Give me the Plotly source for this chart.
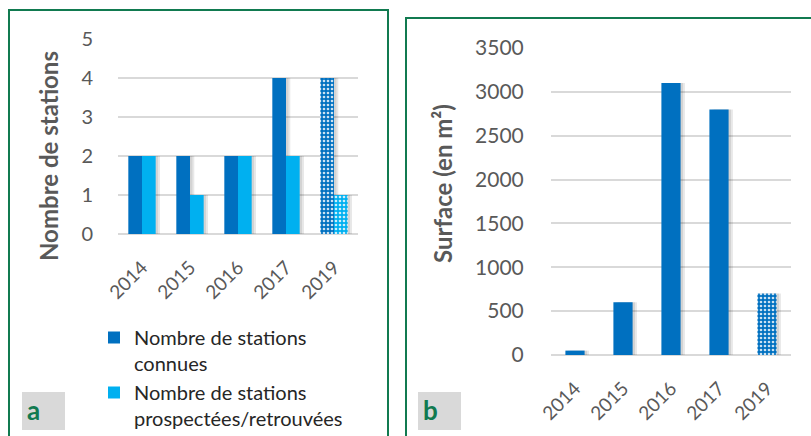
import plotly.graph_objects as go

years = ["2014", "2015", "2016", "2017", "2019"]
connues = [2, 2, 2, 4, 4]
prospectees = [2, 1, 2, 2, 1]
surface = [50, 600, 3100, 2800, 700]

name_connues = "Nombre de stations<br>connues"
name_prosp = "Nombre de stations<br>prospectées/retrouvées"

DARK = "#0070C0"
LIGHT = "#00B0F0"
GREEN = "#117A50"
GREY_TXT = "#595959"
GRID = "#D9D9D9"
FONT = "Lato"
W, H = 811, 436

pattern_shapes = ["", "", "", "", "."]
pat = dict(shape=pattern_shapes, fgcolor="white", fgopacity=0.8, size=4, solidity=0.35)

fig = go.Figure()

# panel a: shadows
bw_a = 0.285
for vals, off in ((connues, -bw_a), (prospectees, 0.0)):
    for sh in (0.09, 0.05):
        fig.add_trace(go.Bar(x=years, y=vals, xaxis="x", yaxis="y", width=bw_a, offset=off + sh,
                             marker=dict(color="rgba(0,0,0,0.09)", line_width=0),
                             showlegend=False, hoverinfo="skip"))

fig.add_trace(go.Bar(x=years, y=connues, name=name_connues, xaxis="x", yaxis="y",
                     width=bw_a, offset=-bw_a,
                     marker=dict(color=DARK, line_width=0, pattern=pat)))
fig.add_trace(go.Bar(x=years, y=prospectees, name=name_prosp, xaxis="x", yaxis="y",
                     width=bw_a, offset=0,
                     marker=dict(color=LIGHT, line_width=0, pattern=pat)))

# panel b
bw_b = 0.40
for sh in (0.09, 0.05):
    fig.add_trace(go.Bar(x=years, y=surface, xaxis="x2", yaxis="y2", width=bw_b, offset=-bw_b / 2 + sh,
                         marker=dict(color="rgba(0,0,0,0.09)", line_width=0),
                         showlegend=False, hoverinfo="skip"))
fig.add_trace(go.Bar(x=years, y=surface, xaxis="x2", yaxis="y2", width=bw_b, offset=-bw_b / 2,
                     marker=dict(color=DARK, line_width=0, pattern=pat), showlegend=False))


def px_x(p):
    return p / W


def px_y(p):
    return 1 - p / H


common_x = dict(type="category", showgrid=False, showline=False, zeroline=False, automargin=False,
                tickangle=-45, ticks="outside", ticklen=14, tickcolor="rgba(0,0,0,0)",
                tickfont=dict(family=FONT, size=19, color=GREY_TXT), fixedrange=True)


def border_path(x0, y_top, x1):
    return (f"M {px_x(x0)},0 L {px_x(x0)},{px_y(y_top)} L {px_x(x1)},{px_y(y_top)} L {px_x(x1)},0")


fig.update_layout(
    width=W, height=H, margin=dict(l=0, r=0, t=0, b=0, autoexpand=False),
    paper_bgcolor="white", plot_bgcolor="white",
    barmode="overlay",
    font=dict(family=FONT, color=GREY_TXT),
    xaxis=dict(domain=[px_x(118), px_x(358)], anchor="y", **common_x),
    yaxis=dict(domain=[px_y(234), px_y(39)], range=[0, 5], dtick=1, anchor="x", automargin=False,
               showgrid=True, gridcolor=GRID, gridwidth=2, zeroline=True, zerolinecolor=GRID,
               zerolinewidth=2, showline=False, fixedrange=True,
               ticks="outside", ticklen=20, tickcolor="rgba(0,0,0,0)",
               tickfont=dict(family=FONT, size=20, color=GREY_TXT)),
    xaxis2=dict(domain=[px_x(551), px_x(791)], anchor="y2", **common_x),
    yaxis2=dict(domain=[px_y(355), px_y(48)], range=[0, 3500], dtick=500, anchor="x2", automargin=False,
                showgrid=True, gridcolor=GRID, gridwidth=2, zeroline=True, zerolinecolor=GRID,
                zerolinewidth=2, showline=False, fixedrange=True,
                ticks="outside", ticklen=22, tickcolor="rgba(0,0,0,0)",
                tickfont=dict(family=FONT, size=21, color=GREY_TXT)),
    legend=dict(x=px_x(94), y=px_y(318), xanchor="left", yanchor="top",
                font=dict(family=FONT, size=20, color="#262626"),
                bgcolor="rgba(0,0,0,0)", valign="top", tracegroupgap=0),
    shapes=[
        dict(type="path", xref="paper", yref="paper", path=border_path(9, 10, 388),
             line=dict(color=GREEN, width=2), layer="below"),
        dict(type="path", xref="paper", yref="paper", path=border_path(406, 18, 815),
             line=dict(color=GREEN, width=2), layer="below"),
        dict(type="rect", xref="paper", yref="paper", x0=px_x(22), x1=px_x(65), y0=px_y(430), y1=px_y(392),
             line=dict(width=0), fillcolor="#D9D9D9", layer="below"),
        dict(type="rect", xref="paper", yref="paper", x0=px_x(418), x1=px_x(461), y0=px_y(430), y1=px_y(392),
             line=dict(width=0), fillcolor="#D9D9D9", layer="below"),
    ],
    annotations=[
        dict(text="<b>Nombre de stations</b>", xref="paper", yref="paper", x=px_x(48), y=px_y(156),
             textangle=-90, showarrow=False, font=dict(family=FONT, size=24, color=GREY_TXT),
             xanchor="center", yanchor="middle"),
        dict(text="<b>Surface (en m²)</b>", xref="paper", yref="paper", x=px_x(442), y=px_y(183),
             textangle=-90, showarrow=False, font=dict(family=FONT, size=24, color=GREY_TXT),
             xanchor="center", yanchor="middle"),
        dict(text="<b>a</b>", xref="paper", yref="paper", x=px_x(33), y=px_y(410),
             showarrow=False, font=dict(family=FONT, size=26, color=GREEN),
             xanchor="center", yanchor="middle"),
        dict(text="<b>b</b>", xref="paper", yref="paper", x=px_x(431), y=px_y(410),
             showarrow=False, font=dict(family=FONT, size=26, color=GREEN),
             xanchor="center", yanchor="middle"),
    ],
)

fig.write_html("out.html", config={"displayModeBar": False},
               post_script="document.body.style.margin='0';")
